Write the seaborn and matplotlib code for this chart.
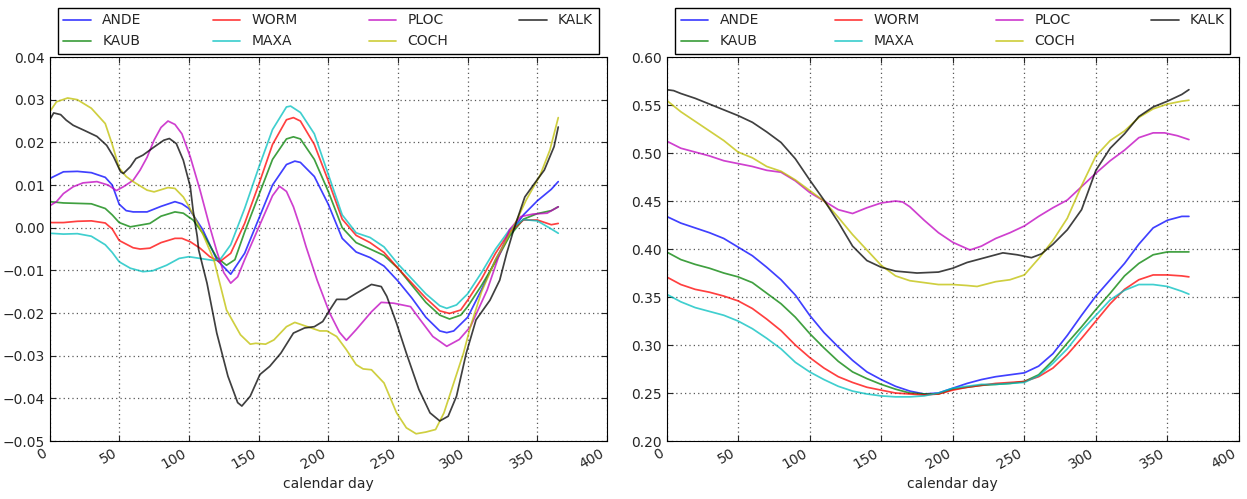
import matplotlib
matplotlib.use("Agg")
import matplotlib.pyplot as plt
import pandas as pd
import seaborn as sb

# --- date: (zi, valoare) ---
# panoul stang
ANDE_L = [(0, .0115), (10, .0131), (20, .0132), (30, .0129), (40, .0118), (45, .0100), (50, .0055), (55, .0040),
          (60, .0037), (70, .0037), (80, .0050), (90, .0061), (95, .0056), (100, .0045), (110, -.0005), (120, -.0075),
          (130, -.0109), (140, -.0060), (150, .0020), (160, .0100), (170, .0148), (176, .0156), (180, .0153),
          (190, .0120), (200, .0055), (210, -.0025), (220, -.0057), (230, -.0070), (240, -.0090), (250, -.0125),
          (260, -.0165), (270, -.0210), (280, -.0242), (285, -.0246), (290, -.0242), (300, -.0210), (310, -.0145),
          (320, -.0075), (330, -.0015), (340, .0030), (350, .0063), (360, .0090), (365, .0108)]
KAUB_L = [(0, .0061), (10, .0058), (20, .0057), (30, .0056), (40, .0045), (45, .0030), (50, .0012), (58, .0002),
          (65, .0006), (72, .0010), (80, .0027), (90, .0037), (96, .0034), (103, .0018), (110, -.0013), (120, -.0070),
          (127, -.0088), (133, -.0075), (140, -.0010), (150, .0075), (160, .0160), (170, .0208), (175, .0213),
          (180, .0208), (190, .0160), (200, .0085), (210, .0000), (220, -.0035), (230, -.0050), (240, -.0065),
          (250, -.0095), (260, -.0135), (270, -.0175), (280, -.0205), (287, -.0214), (295, -.0205), (300, -.0185),
          (310, -.0135), (320, -.0080), (330, -.0020), (340, .0020), (350, .0033), (360, .0040), (365, .0049)]
WORM_L = [(0, .0012), (10, .0012), (20, .0015), (30, .0016), (40, .0011), (45, -.0003), (50, -.0030), (60, -.0047),
          (65, -.0050), (72, -.0048), (80, -.0035), (90, -.0025), (95, -.0025), (101, -.0033), (108, -.0048),
          (115, -.0068), (122, -.0080), (130, -.0060), (140, .0010), (150, .0100), (160, .0195), (170, .0253),
          (175, .0258), (180, .0250), (190, .0195), (200, .0110), (210, .0020), (220, -.0018), (230, -.0035),
          (240, -.0058), (250, -.0095), (260, -.0130), (270, -.0165), (280, -.0195), (287, -.0201), (295, -.0193),
          (300, -.0170), (310, -.0120), (320, -.0060), (330, -.0010), (340, .0018), (350, .0018), (360, .0007),
          (365, .0010)]
MAXA_L = [(0, -.0013), (10, -.0015), (20, -.0014), (30, -.0020), (40, -.0040), (45, -.0058), (50, -.0080),
          (58, -.0095), (67, -.0103), (74, -.0101), (84, -.0088), (93, -.0072), (100, -.0068), (108, -.0072),
          (118, -.0077), (123, -.0072), (130, -.0040), (140, .0045), (150, .0140), (160, .0230), (170, .0283),
          (173, .0285), (180, .0270), (190, .0220), (200, .0125), (210, .0030), (220, -.0012), (230, -.0023),
          (240, -.0045), (250, -.0085), (260, -.0120), (270, -.0155), (280, -.0183), (285, -.0189), (292, -.0181),
          (300, -.0155), (310, -.0105), (320, -.0050), (330, -.0005), (340, .0019), (350, .0016), (360, -.0003),
          (365, -.0013)]
PLOC_L = [(0, .0051), (5, .0061), (10, .0080), (17, .0096), (24, .0105), (34, .0108), (42, .0100), (48, .0087),
          (53, .0096), (60, .0111), (65, .0135), (70, .0165), (75, .0205), (80, .0235), (85, .0250), (90, .0242),
          (95, .0220), (101, .0166), (108, .0088), (115, .0002), (120, -.0055), (125, -.0105), (130, -.0130),
          (135, -.0115), (140, -.0075), (150, .0000), (160, .0075), (165, .0097), (170, .0085), (175, .0049),
          (180, .0000), (184, -.0044), (192, -.0123), (201, -.0200), (208, -.0245), (213, -.0264), (220, -.0239),
          (231, -.0197), (238, -.0175), (247, -.0177), (259, -.0185), (266, -.0216), (275, -.0255), (285, -.0278),
          (294, -.0262), (302, -.0232), (314, -.0146), (322, -.0070), (330, -.0005), (338, .0026), (347, .0032),
          (357, .0034), (365, .0049)]
COCH_L = [(0, .0271), (5, .0295), (13, .0304), (20, .0300), (30, .0280), (40, .0244), (45, .0195), (50, .0140),
          (55, .0120), (60, .0108), (70, .0088), (75, .0084), (85, .0094), (90, .0092), (96, .0072), (100, .0050),
          (105, .0018), (110, -.0015), (118, -.0076), (127, -.0193), (137, -.0251), (144, -.0273), (148, -.0271),
          (155, -.0273), (161, -.0263), (170, -.0232), (176, -.0222), (185, -.0232), (194, -.0242), (199, -.0242),
          (206, -.0255), (213, -.0286), (220, -.0321), (225, -.0331), (231, -.0333), (240, -.0364), (249, -.0434),
          (256, -.0469), (263, -.0483), (270, -.0479), (277, -.0473), (283, -.0434), (290, -.0364), (297, -.0294),
          (302, -.0232), (310, -.0150), (320, -.0075), (333, .0002), (342, .0065), (352, .0123), (359, .0182),
          (365, .0258)]
KALK_L = [(0, .0252), (3, .0269), (8, .0265), (12, .0252), (17, .0240), (25, .0228), (34, .0214), (41, .0193),
          (46, .0166), (51, .0131), (53, .0127), (58, .0143), (62, .0162), (67, .0170), (75, .0189), (82, .0205),
          (86, .0209), (91, .0197), (96, .0158), (101, .0096), (103, .0041), (106, -.0021), (107, -.0052),
          (113, -.0130), (120, -.0247), (128, -.0348), (135, -.0410), (138, -.0418), (144, -.0395), (151, -.0344),
          (158, -.0325), (166, -.0294), (175, -.0247), (183, -.0235), (190, -.0232), (196, -.0220), (201, -.0193),
          (206, -.0168), (213, -.0168), (220, -.0154), (231, -.0133), (238, -.0138), (242, -.0161), (249, -.0224),
          (256, -.0294), (265, -.0379), (273, -.0434), (280, -.0453), (286, -.0442), (292, -.0395), (299, -.0294),
          (306, -.0216), (316, -.0170), (323, -.0123), (328, -.0060), (333, -.0005), (341, .0072), (348, .0104),
          (355, .0135), (362, .0190), (365, .0236)]

# panoul drept
ANDE_R = [(0, .434), (10, .427), (20, .422), (30, .417), (40, .411), (50, .402), (60, .393), (70, .381), (80, .368),
          (90, .352), (100, .331), (110, .313), (120, .298), (130, .284), (140, .272), (150, .264), (160, .257),
          (170, .252), (180, .249), (190, .250), (200, .255), (210, .260), (220, .264), (230, .267), (240, .269),
          (250, .271), (260, .278), (270, .291), (280, .310), (290, .331), (300, .351), (310, .368), (320, .385),
          (330, .405), (340, .422), (350, .430), (360, .434), (365, .434)]
KAUB_R = [(0, .397), (10, .389), (20, .384), (30, .380), (40, .375), (50, .371), (60, .365), (70, .354), (80, .343),
          (90, .329), (100, .312), (110, .297), (120, .283), (130, .272), (140, .265), (150, .259), (160, .254),
          (170, .250), (180, .249), (190, .249), (200, .254), (210, .256), (220, .258), (230, .259), (240, .260),
          (250, .262), (260, .269), (270, .284), (280, .302), (290, .319), (300, .337), (310, .354), (320, .372),
          (330, .385), (340, .394), (350, .397), (365, .397)]
WORM_R = [(0, .371), (10, .363), (20, .358), (30, .355), (40, .351), (50, .346), (60, .338), (70, .327), (80, .315),
          (90, .300), (100, .287), (110, .276), (120, .267), (130, .261), (140, .256), (150, .253), (160, .250),
          (170, .249), (180, .248), (190, .249), (200, .253), (210, .256), (220, .258), (230, .260), (240, .261),
          (250, .262), (260, .267), (270, .276), (280, .290), (290, .307), (300, .325), (310, .343), (320, .358),
          (330, .368), (340, .373), (350, .373), (360, .372), (365, .371)]
MAXA_R = [(0, .353), (10, .345), (20, .339), (30, .335), (40, .331), (50, .325), (60, .317), (70, .307), (80, .296),
          (90, .282), (100, .272), (110, .264), (120, .257), (130, .252), (140, .249), (150, .247), (160, .246),
          (170, .246), (180, .247), (190, .250), (200, .255), (210, .257), (220, .259), (230, .259), (240, .260),
          (250, .261), (260, .268), (270, .281), (280, .296), (290, .315), (300, .331), (310, .347), (320, .357),
          (330, .363), (340, .363), (350, .361), (360, .356), (365, .353)]
PLOC_R = [(0, .5125), (10, .505), (20, .501), (30, .497), (40, .492), (50, .489), (60, .486), (70, .482), (80, .480),
          (90, .471), (100, .459), (110, .450), (120, .441), (130, .437), (140, .443), (150, .448), (160, .450),
          (165, .449), (170, .444), (180, .430), (190, .417), (200, .407), (212, .399), (220, .403), (230, .411),
          (240, .417), (250, .424), (260, .434), (270, .443), (280, .451), (290, .465), (300, .479), (310, .492),
          (320, .503), (330, .516), (340, .521), (348, .521), (357, .518), (365, .514)]
COCH_R = [(0, .555), (10, .543), (20, .533), (30, .523), (40, .513), (50, .501), (60, .495), (70, .486), (80, .481),
          (90, .472), (100, .461), (110, .450), (120, .433), (130, .415), (140, .399), (150, .383), (160, .372),
          (170, .367), (180, .365), (190, .363), (200, .363), (210, .362), (217, .361), (230, .366), (240, .368),
          (250, .373), (260, .390), (270, .409), (280, .432), (290, .466), (300, .497), (310, .513), (320, .523),
          (330, .537), (340, .546), (350, .551), (360, .554), (365, .555)]
KALK_R = [(0, .566), (5, .565), (10, .562), (20, .557), (30, .551), (40, .545), (50, .539), (60, .532), (70, .522),
          (80, .511), (90, .494), (100, .472), (110, .451), (120, .428), (130, .403), (140, .388), (150, .381),
          (160, .377), (175, .375), (190, .376), (200, .380), (210, .386), (220, .390), (235, .396), (245, .394),
          (255, .391), (262, .395), (270, .405), (280, .420), (290, .441), (300, .482), (310, .505), (320, .520),
          (330, .538), (340, .548), (350, .554), (360, .561), (365, .566)]

statii = ["ANDE", "KAUB", "WORM", "MAXA", "PLOC", "COCH", "KALK"]
culori = ["#0000ff", "#008000", "#ff0000", "#00bfbf", "#bf00bf", "#bfbf00", "#000000"]
xticks = [0, 50, 100, 150, 200, 250, 300, 350, 400]
yticks_st = [-0.05, -0.04, -0.03, -0.02, -0.01, 0.00, 0.01, 0.02, 0.03, 0.04]
yticks_dr = [0.20, 0.25, 0.30, 0.35, 0.40, 0.45, 0.50, 0.55, 0.60]

sb.set_style("white", {"xtick.direction": "in", "ytick.direction": "in",
                       "axes.edgecolor": "black", "axes.linewidth": 1.0})
plt.rcParams["font.family"] = ["DejaVu Sans"]


def deseneaza(ax, serii, yticks):
    for nume, cul, pts in zip(statii, culori, serii):
        df = pd.DataFrame(pts, columns=["zi", "val"])
        sb.lineplot(data=df, x="zi", y="val", color=cul, alpha=0.75, linewidth=1.25,
                    label=nume, estimator=None, ax=ax)
    ax.set_xlim(xticks[0], xticks[-1])
    ax.set_xticks(xticks)
    ax.set_ylim(yticks[0], yticks[-1])
    ax.set_yticks(yticks)
    ax.grid(True, color="0.35", linestyle=(0, (1, 2.5)), linewidth=0.9)
    ax.set_axisbelow(True)
    ax.set_xlabel("calendar day", fontsize=10)
    ax.set_ylabel("")
    ax.tick_params(direction="in", top=True, right=True, length=4, width=0.8, labelsize=10,
                   bottom=True, left=True)
    for t in ax.get_xticklabels():
        t.set_rotation(30)
        t.set_ha("right")
    ax.legend(bbox_to_anchor=(0.015, 1.008, 0.97, 0.13), loc="lower left", ncol=4, mode="expand",
              borderaxespad=0, fontsize=10, frameon=True, fancybox=False, edgecolor="k",
              framealpha=1)


fig = plt.figure(figsize=(12.47, 4.99), dpi=100)
ax1 = fig.add_axes([0.0397, 0.1162, 0.4471, 0.7695])
ax2 = fig.add_axes([0.5345, 0.1162, 0.4591, 0.7695])

deseneaza(ax1, [ANDE_L, KAUB_L, WORM_L, MAXA_L, PLOC_L, COCH_L, KALK_L], yticks_st)
deseneaza(ax2, [ANDE_R, KAUB_R, WORM_R, MAXA_R, PLOC_R, COCH_R, KALK_R], yticks_dr)

fig.savefig("out.png", dpi=100)
